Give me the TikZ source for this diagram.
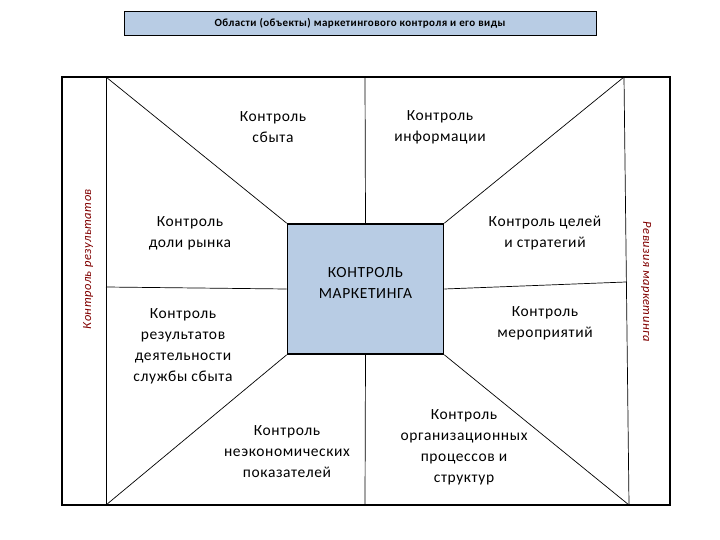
\documentclass[tikz,border=0pt]{standalone}
\usepackage{fontspec}
\setmainfont{Carlito}[LetterSpace=4]
\definecolor{lb}{HTML}{B8CCE4}
\begin{document}
\begin{tikzpicture}[x=1pt,y=-1pt,
  lbl/.style={align=center,font=\fontsize{15.5}{21}\selectfont},
  side/.style={font=\fontsize{12.5}{14}\selectfont\itshape,text=red!50!black},
  ln/.style={draw=black,line width=0.7pt}]
\useasboundingbox (0,0) rectangle (720,540);
\node[draw,line width=0.8pt,fill=lb,minimum width=472pt,minimum height=24pt,font=\fontsize{11}{13}\selectfont\bfseries] (title) at (360,23) {Области (объекты) маркетингового контроля и его виды};
\coordinate (o1) at (62,77); \coordinate (o2) at (670,505);
\draw[line width=1.6pt] (o1) rectangle (o2);
\coordinate (itl) at (106,77); \coordinate (ibl) at (106,505);
\coordinate (itr) at (624,77); \coordinate (ibr) at (629,505);
\draw[ln] (itl) -- (ibl); \draw[ln] (itr) -- (ibr);
\node[draw,line width=1.6pt,fill=lb,minimum width=156pt,minimum height=130pt] (c) at (365.5,289) {};
\node[lbl] at (c.center) [yshift=6pt] {КОНТРОЛЬ\\МАРКЕТИНГА};
\coordinate (tm) at (365,77); \coordinate (bm) at (365,505);
\coordinate (lm) at (106,287); \coordinate (rm) at (626,282);
\draw[ln] (tm) -- (c.north); \draw[ln] (bm) -- (c.south);
\draw[ln] (lm) -- (c.west); \draw[ln] (rm) -- (c.east);
\draw[ln] (itl) -- (c.north west); \draw[ln] (itr) -- (c.north east);
\draw[ln] (ibl) -- (c.south west); \draw[ln] (ibr) -- (c.south east);
\node[lbl] (n1) at (273,127) {Контроль\\сбыта};
\node[lbl] (n2) at (440,127) {Контроль\\информации};
\node[lbl] (n3) at (190,233) {Контроль\\доли рынка};
\node[lbl] (n4) at (545,233) {Контроль целей\\и стратегий};
\node[lbl] (n5) at (183,346) {Контроль\\результатов\\деятельности\\службы сбыта};
\node[lbl] (n6) at (545,323) {Контроль\\мероприятий};
\node[lbl] (n7) at (287,452) {Контроль\\неэкономических\\показателей};
\node[lbl] (n8) at (464,447) {Контроль\\организационных\\процессов и\\структур};
\node[side,rotate=90] (s1) at (88,259) {Контроль результатов};
\node[side,rotate=-90] (s2) at (646,282) {Ревизия маркетинга};
\end{tikzpicture}
\end{document}
